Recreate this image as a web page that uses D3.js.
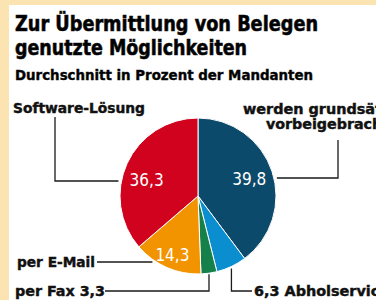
<!DOCTYPE html>
<html>
<head>
<meta charset="utf-8">
<script src="https://cdn.jsdelivr.net/npm/d3@7"></script>
<style>
  html, body { margin: 0; padding: 0; background: #fce4b2; }
  #chart-area { width: 376px; height: 300px; }
  text { font-family: "DejaVu Sans Condensed", "Liberation Sans Narrow", sans-serif; }
</style>
</head>
<body>
<div id="chart-area"></div>
<script>
// data, clockwise from 12 o'clock
var categories = ["werden grundsätzlich vorbeigebracht", "Abholservice", "per Fax", "per E-Mail", "Software-Lösung"];
var values = [39.8, 6.3, 3.3, 14.3, 36.3];
var valueLabels = ["39,8", "6,3", "3,3", "14,3", "36,3"];
var colors = ["#0c4a6c", "#0a8ed0", "#15804a", "#f29400", "#d0021e"];

var titleLines = ["Zur Übermittlung von Belegen", "genutzte Möglichkeiten"];
var subtitle = "Durchschnitt in Prozent der Mandanten";

function init() {
    var svgWidth = 376, svgHeight = 300;
    var cx = 198, cy = 196, radius = 78;

    var svg = d3.select("#chart-area")
        .append("svg")
        .attr("width", svgWidth)
        .attr("height", svgHeight);

    // beige frame, white panel
    svg.append("rect")
        .attr("width", svgWidth).attr("height", svgHeight)
        .attr("fill", "#fce4b2");
    svg.append("rect")
        .attr("x", 9).attr("y", 5)
        .attr("width", svgWidth - 9).attr("height", svgHeight - 5)
        .attr("fill", "#ffffff");

    // title
    svg.append("text").attr("x", 15).attr("y", 31)
        .attr("font-size", "21px").attr("font-weight", "bold")
        .style("stroke", "#111").style("stroke-width", 0.6)
        .attr("textLength", 303).attr("lengthAdjust", "spacingAndGlyphs")
        .text(titleLines[0]);
    svg.append("text").attr("x", 15).attr("y", 55)
        .attr("font-size", "21px").attr("font-weight", "bold")
        .style("stroke", "#111").style("stroke-width", 0.6)
        .attr("textLength", 232).attr("lengthAdjust", "spacingAndGlyphs")
        .text(titleLines[1]);
    svg.append("text").attr("x", 15).attr("y", 80)
        .attr("font-size", "14px").attr("font-weight", "bold")
        .style("stroke", "#111").style("stroke-width", 0.4)
        .attr("textLength", 298).attr("lengthAdjust", "spacingAndGlyphs")
        .text(subtitle);

    var pie = d3.pie().sort(null).value(d => d);
    var arcs = pie(values);
    var arc = d3.arc().innerRadius(0).outerRadius(radius);

    var pieGroup = svg.append("g")
        .attr("transform", "translate(" + cx + "," + cy + ")");

    pieGroup.selectAll("path")
        .data(arcs)
        .enter()
        .append("path")
        .attr("d", arc)
        .attr("fill", (d, i) => colors[i])
        .attr("stroke", "#ffffff")
        .attr("stroke-width", 1);

    // value labels inside the big slices
    pieGroup.selectAll(".val")
        .data(arcs.filter(d => d.value > 10))
        .enter()
        .append("text")
        .attr("class", "val")
        .attr("transform", d => {
            var r = d.value < 20 ? 64 : 54;
            var a = (d.startAngle + d.endAngle) / 2;
            if (d.index == 4) a -= 0.12;
            return "translate(" + (Math.sin(a) * r) + "," + (-Math.cos(a) * r) + ")";
        })
        .attr("text-anchor", "middle")
        .attr("dy", "0.36em")
        .attr("font-size", "17px")
        .attr("fill", "#ffffff")
        .text(d => valueLabels[d.index]);

    function edgeX(y, side) {
        var dy = y - cy;
        return cx + side * Math.sqrt(radius * radius - dy * dy);
    }
    function outer(d) {
        var a = (d.startAngle + d.endAngle) / 2;
        return [cx + Math.sin(a) * radius, cy - Math.cos(a) * radius];
    }

    var lines = svg.append("g")
        .attr("fill", "none")
        .attr("stroke", "#1a1a1a")
        .attr("stroke-width", 1.3);

    // Software-Lösung
    lines.append("path")
        .attr("d", "M55,117 V181 H" + (edgeX(181, -1) - 3));
    // werden grundsätzlich vorbeigebracht
    lines.append("path")
        .attr("d", "M338,140 V178 H" + (edgeX(178, 1) + 3));
    // per E-Mail
    lines.append("path")
        .attr("d", "M97,262 H" + (edgeX(262, -1) - 4));
    // per Fax
    var pFax = outer(arcs[2]);
    lines.append("path")
        .attr("d", "M105,291 H" + pFax[0] + " V" + (pFax[1] + 1));
    // Abholservice
    var pAb = outer(arcs[1]);
    lines.append("path")
        .attr("d", "M" + pAb[0] + "," + (pAb[1] + 2) + " V291 H252");

    var labels = svg.append("g")
        .attr("font-size", "14px")
        .attr("font-weight", "bold")
        .attr("fill", "#111111")
        .style("stroke", "#111").style("stroke-width", 0.4);

    labels.append("text").attr("x", 13).attr("y", 113)
        .attr("textLength", 132).attr("lengthAdjust", "spacingAndGlyphs")
        .text(categories[4]);
    labels.append("text").attr("x", 243).attr("y", 114)
        .attr("textLength", 176).attr("lengthAdjust", "spacingAndGlyphs")
        .text("werden grundsätzlich");
    labels.append("text").attr("x", 266).attr("y", 129)
        .attr("textLength", 123).attr("lengthAdjust", "spacingAndGlyphs")
        .text("vorbeigebracht");
    labels.append("text").attr("x", 17).attr("y", 267)
        .attr("textLength", 78).attr("lengthAdjust", "spacingAndGlyphs")
        .text(categories[3]);
    labels.append("text").attr("x", 15).attr("y", 296)
        .attr("textLength", 90).attr("lengthAdjust", "spacingAndGlyphs")
        .text(categories[2] + " " + valueLabels[2]);
    labels.append("text").attr("x", 254).attr("y", 296)
        .attr("textLength", 135).attr("lengthAdjust", "spacingAndGlyphs")
        .text(valueLabels[1] + " " + categories[1]);
}

window.addEventListener('load', init, false)
</script>
</body>
</html>
